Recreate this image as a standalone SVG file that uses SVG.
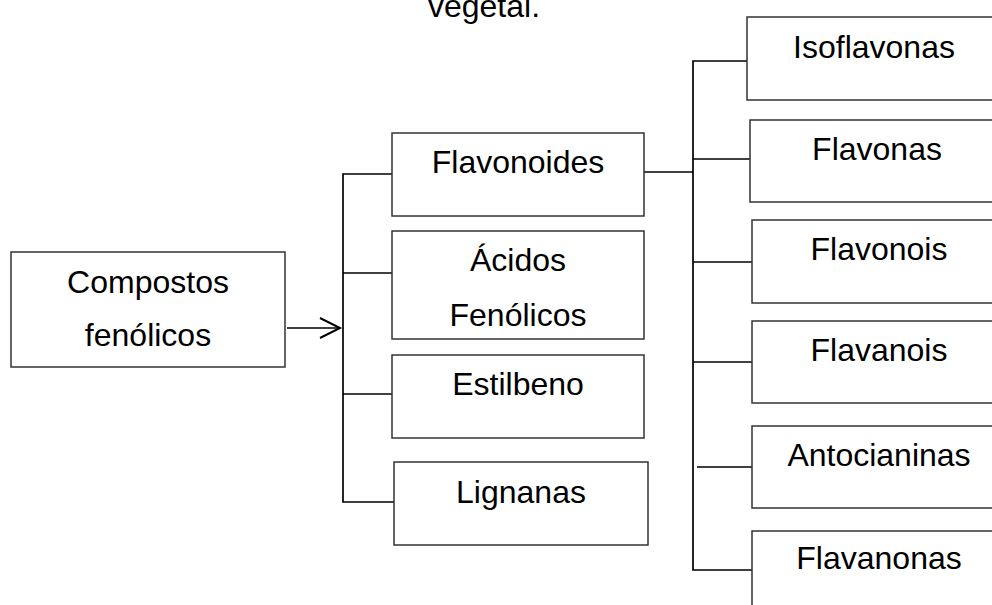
<svg xmlns="http://www.w3.org/2000/svg" width="992" height="605" viewBox="0 0 992 605">
<style>
.box{fill:#fff;stroke:#333;stroke-width:1.5}
.t{font-family:"Liberation Sans",Arial,sans-serif;font-size:32px;fill:#000;text-anchor:middle}
.c{fill:none;stroke:#000;stroke-width:1.7}
</style>
<defs>
<marker id="arr" markerUnits="userSpaceOnUse" markerWidth="24" markerHeight="24" refX="21" refY="11" orient="auto">
<path d="M1,1 L21,11 L1,21" fill="none" stroke="#000" stroke-width="2"/>
</marker>
</defs>
<rect width="992" height="605" fill="#fff"/>
<text class="t" x="484" y="17">vegetal.</text>
<g id="connectors">
<line class="c" x1="287" y1="328" x2="340" y2="328" marker-end="url(#arr)"/>
<polyline class="c" points="392,174 343,174 343,502 394,502"/>
<line class="c" x1="343" y1="273" x2="392" y2="273"/>
<line class="c" x1="343" y1="394" x2="392" y2="394"/>
<line class="c" x1="644" y1="172" x2="693" y2="172"/>
<polyline class="c" points="747,61 693,61 693,570 752,570"/>
<line class="c" x1="693" y1="159" x2="750" y2="159"/>
<line class="c" x1="693" y1="262" x2="752" y2="262"/>
<line class="c" x1="693" y1="362" x2="752" y2="362"/>
<line class="c" x1="697" y1="467" x2="752" y2="467"/>
</g>
<g id="compostos">
<rect class="box" x="11" y="252" width="274" height="115"/>
<text class="t" x="148" y="293">Compostos</text>
<text class="t" x="148" y="346">fenólicos</text>
</g>
<g id="flavonoides">
<rect class="box" x="392" y="133" width="252" height="83"/>
<text class="t" x="518" y="173">Flavonoides</text>
</g>
<g id="acidos">
<rect class="box" x="392" y="231" width="252" height="108"/>
<text class="t" x="518" y="271">Ácidos</text>
<text class="t" x="518" y="326">Fenólicos</text>
</g>
<g id="estilbeno">
<rect class="box" x="392" y="355" width="252" height="83"/>
<text class="t" x="518" y="395">Estilbeno</text>
</g>
<g id="lignanas">
<rect class="box" x="394" y="462" width="254" height="83"/>
<text class="t" x="521" y="503">Lignanas</text>
</g>
<g id="isoflavonas">
<rect class="box" x="747" y="17" width="260" height="83"/>
<text class="t" x="874" y="58">Isoflavonas</text>
</g>
<g id="flavonas">
<rect class="box" x="750" y="120" width="260" height="82"/>
<text class="t" x="877" y="160">Flavonas</text>
</g>
<g id="flavonois">
<rect class="box" x="752" y="220" width="260" height="83"/>
<text class="t" x="879" y="260">Flavonois</text>
</g>
<g id="flavanois">
<rect class="box" x="752" y="321" width="260" height="82"/>
<text class="t" x="879" y="361">Flavanois</text>
</g>
<g id="antocianinas">
<rect class="box" x="752" y="426" width="260" height="82"/>
<text class="t" x="879" y="466">Antocianinas</text>
</g>
<g id="flavanonas">
<rect class="box" x="752" y="531" width="260" height="90"/>
<text class="t" x="879" y="569">Flavanonas</text>
</g>
</svg>
